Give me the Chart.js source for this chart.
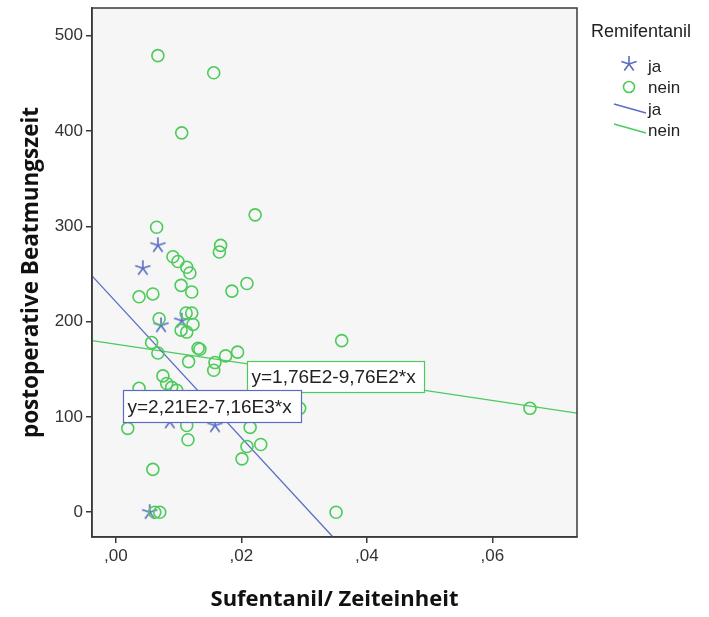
<!DOCTYPE html>
<html>
<head>
<meta charset="utf-8">
<script src="https://cdn.jsdelivr.net/npm/chart.js@4"></script>
<style>
    html, body { margin: 0; padding: 0; background: #fff; }
    #box { width: 709px; height: 617px; position: relative; }
</style>
</head>
<body>
<div id="box"><canvas id="myChart"></canvas></div>
<script>
// ---------------------------------------- data ----------------------------------------
const jaX = [0.0067, 0.0043, 0.0072, 0.0105, 0.0086, 0.0158, 0.0054];
const jaY = [280, 256, 196, 201, 95, 91, 0];

const neinX = [0.0067, 0.0156, 0.0105, 0.0065, 0.0222, 0.0167, 0.0165, 0.0091, 0.0099, 0.0113,
    0.0118, 0.0104, 0.0121, 0.0037, 0.0059, 0.0185, 0.0209, 0.0069, 0.0112, 0.0121,
    0.0123, 0.0104, 0.0113, 0.0057, 0.0067, 0.0116, 0.0131, 0.0134, 0.0158, 0.0156,
    0.0175, 0.0194, 0.0360, 0.0075, 0.0081, 0.0089, 0.0097, 0.0037, 0.0019, 0.0059,
    0.0115, 0.0113, 0.0214, 0.0209, 0.0231, 0.0201, 0.0293, 0.0660, 0.0351, 0.0062, 0.0070];
const neinY = [479, 461, 398, 299, 312, 280, 273, 268, 263, 257,
    251, 238, 231, 226, 229, 232, 240, 203, 209, 209,
    197, 191, 189, 178, 167, 158, 172, 171, 157, 149,
    164, 168, 180, 143, 135, 131, 128, 130, 88, 45,
    76, 91, 89, 69, 71, 56, 109, 109, 0, 0, 0];

// fit lines (end points)
const jaLineX = [-0.0038, 0.0346];
const jaLineY = [248, -26];
const neinLineX = [-0.0038, 0.0735];
const neinLineY = [180, 104];

const xTicks = [0, 0.02, 0.04, 0.06];
const xTickLabels = [',00', ',02', ',04', ',06'];
const yTicks = [0, 100, 200, 300, 400, 500];

const seriesNames = ['ja', 'nein'];
const legendTitle = 'Remifentanil';
const equations = ['y=2,21E2-7,16E3*x', 'y=1,76E2-9,76E2*x'];

const blue = '#5A6CC0';
const green = '#4CCB5A';
const axisColor = '#3a3a3a';

// ---------------------------------------- star marker ----------------------------------------
const makeStar = (color) => {
    const c = document.createElement('canvas');
    c.width = 18; c.height = 18;
    const g = c.getContext('2d');
    g.strokeStyle = color;
    g.lineWidth = 1.6;
    g.beginPath();
    for (let i = 0; i < 5; i++) {
        const a = -Math.PI / 2 + i * 2 * Math.PI / 5;
        g.moveTo(9, 9);
        g.lineTo(9 + 8 * Math.cos(a), 9 + 8 * Math.sin(a));
    }
    g.stroke();
    return c;
}
const starImg = makeStar(blue);

const toPoints = (xs, ys) => xs.map((x, i) => ({ x: x, y: ys[i] }));

// ---------------------------------------- plugins ----------------------------------------
const plotBack = {
    id: 'plotBack',
    beforeDraw(chart) {
        const { ctx, chartArea: a } = chart;
        ctx.save();
        ctx.fillStyle = '#f6f6f6';
        ctx.fillRect(a.left, a.top, a.right - a.left, a.bottom - a.top);
        ctx.restore();
    },
    afterDraw(chart) {
        const { ctx, chartArea: a } = chart;
        ctx.save();
        ctx.strokeStyle = axisColor;
        ctx.lineWidth = 1.5;
        ctx.strokeRect(a.left, a.top, a.right - a.left, a.bottom - a.top);
        ctx.restore();
    }
}

const eqBoxes = {
    id: 'eqBoxes',
    afterDatasetsDraw(chart) {
        const ctx = chart.ctx;
        const drawBox = (text, x, y, w, h, color) => {
            ctx.save();
            ctx.fillStyle = '#fff';
            ctx.fillRect(x, y, w, h);
            ctx.strokeStyle = color;
            ctx.lineWidth = 1.2;
            ctx.strokeRect(x, y, w, h);
            ctx.fillStyle = '#222';
            ctx.font = '19px "Liberation Sans", Arial, sans-serif';
            ctx.textBaseline = 'middle';
            ctx.fillText(text, x + 4, y + h / 2 + 1);
            ctx.restore();
        }
        drawBox(equations[1], 247.5, 361.5, 177, 31, green);
        drawBox(equations[0], 123.5, 390.5, 178, 32, blue);
    }
}

const sideLegend = {
    id: 'sideLegend',
    afterDraw(chart) {
        const ctx = chart.ctx;
        ctx.save();
        ctx.fillStyle = '#222';
        ctx.textBaseline = 'middle';
        ctx.font = '18px "Liberation Sans", Arial, sans-serif';
        ctx.fillText(legendTitle, 591, 32);
        ctx.font = '17px "Liberation Sans", Arial, sans-serif';
        ctx.drawImage(starImg, 620, 55);
        ctx.fillText(seriesNames[0], 648, 67);
        ctx.strokeStyle = green;
        ctx.lineWidth = 1.6;
        ctx.beginPath();
        ctx.arc(629, 87, 5.5, 0, Math.PI * 2);
        ctx.stroke();
        ctx.fillText(seriesNames[1], 648, 88);
        ctx.lineWidth = 1.3;
        ctx.strokeStyle = blue;
        ctx.beginPath(); ctx.moveTo(614, 104); ctx.lineTo(646, 113); ctx.stroke();
        ctx.fillText(seriesNames[0], 648, 110);
        ctx.strokeStyle = green;
        ctx.beginPath(); ctx.moveTo(614, 124); ctx.lineTo(646, 133); ctx.stroke();
        ctx.fillText(seriesNames[1], 648, 131);
        ctx.restore();
    }
}

// ---------------------------------------- chart ----------------------------------------
const ctx = document.getElementById('myChart');

new Chart(ctx, {
    type: 'scatter',
    data: {
        datasets: [{
            label: seriesNames[1],
            data: toPoints(neinX, neinY),
            pointStyle: 'circle',
            pointRadius: 6,
            borderColor: green,
            backgroundColor: 'rgba(0,0,0,0)',
            pointBorderWidth: 1.6
        }, {
            label: seriesNames[0],
            data: toPoints(jaX, jaY),
            pointStyle: starImg,
            borderColor: blue,
            backgroundColor: blue
        }, {
            label: seriesNames[0],
            data: toPoints(jaLineX, jaLineY),
            showLine: true,
            pointRadius: 0,
            borderColor: blue,
            borderWidth: 1.3
        }, {
            label: seriesNames[1],
            data: toPoints(neinLineX, neinLineY),
            showLine: true,
            pointRadius: 0,
            borderColor: green,
            borderWidth: 1.3
        }]
    },
    options: {
        responsive: true,
        maintainAspectRatio: false,
        animation: false,
        layout: { padding: { left: 0, top: 8, right: 132, bottom: 0 } },
        plugins: {
            legend: { display: false },
            tooltip: { enabled: false }
        },
        scales: {
            x: {
                type: 'linear',
                min: -0.0038,
                max: 0.0735,
                afterFit: (s) => { s.height = 80; s.paddingLeft = 0; s.paddingRight = 0; },
                afterBuildTicks: (s) => { s.ticks = xTicks.map(v => ({ value: v })); },
                ticks: {
                    color: '#333',
                    padding: 3,
                    font: { family: '"Liberation Sans", Arial, sans-serif', size: 17 },
                    callback: (v) => xTickLabels[xTicks.indexOf(v)]
                },
                grid: { drawOnChartArea: false, tickLength: 6, color: axisColor, lineWidth: 1.5 },
                border: { color: axisColor, width: 1.5 },
                title: {
                    display: true,
                    text: 'Sufentanil/ Zeiteinheit',
                    color: '#111',
                    padding: 4,
                    font: { family: '"Open Sans", sans-serif', size: 22, weight: 'bold' }
                }
            },
            y: {
                type: 'linear',
                min: -26,
                max: 529,
                afterFit: (s) => { s.width = 92; s.paddingTop = 0; s.paddingBottom = 0; },
                afterBuildTicks: (s) => { s.ticks = yTicks.map(v => ({ value: v })); },
                ticks: {
                    color: '#333',
                    padding: 3,
                    font: { family: '"Liberation Sans", Arial, sans-serif', size: 17 }
                },
                grid: { drawOnChartArea: false, tickLength: 6, color: axisColor, lineWidth: 1.5 },
                border: { color: axisColor, width: 1.5 },
                title: {
                    display: true,
                    text: 'postoperative Beatmungszeit',
                    color: '#111',
                    padding: { top: 18, bottom: 0 },
                    font: { family: '"Open Sans", sans-serif', size: 22.5, weight: 'bold' }
                }
            }
        }
    },
    plugins: [plotBack, eqBoxes, sideLegend]
});
</script>
</body>
</html>
